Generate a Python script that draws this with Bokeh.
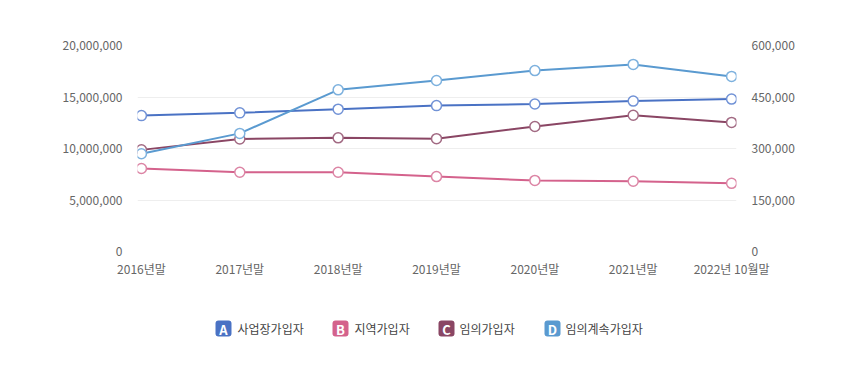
from bokeh.plotting import figure
from bokeh.layouts import column
from bokeh.models import (LinearAxis, Range1d, FixedTicker, NumeralTickFormatter,
                          BoxAnnotation, ColumnDataSource)
from bokeh.core.properties import value
from bokeh.embed import file_html
from bokeh.resources import INLINE

categories = ["2016년말", "2017년말", "2018년말", "2019년말", "2020년말", "2021년말", "2022년 10월말"]
series_names = ["사업장가입자", "지역가입자", "임의가입자", "임의계속가입자"]
legend_letters = ["A", "B", "C", "D"]
workplace = [13192000, 13459000, 13818000, 14163000, 14320000, 14602000, 14800000]
regional = [8060000, 7691000, 7694000, 7274000, 6900000, 6820000, 6620000]
voluntary = [296000, 327700, 331000, 328700, 364000, 397000, 376000]
voluntary_cont = [284700, 344000, 470900, 498000, 527000, 545000, 510000]
left_ticks = [0, 5000000, 10000000, 15000000, 20000000]
right_ticks = [0, 150000, 300000, 450000, 600000]

line_colors = ["#4a72c4", "#d4628c", "#8a4664", "#5a9ad0"]
marker_colors = ["#7192d6", "#dc85a5", "#a26a83", "#7db1de"]
FONT = "Noto Sans CJK KR"

W, H1, H2 = 861, 300, 71
FL, FR = 137, 736
p = figure(width=W, height=H1, output_backend="svg", toolbar_location=None,
           x_range=Range1d(-0.04, 6.05), y_range=Range1d(0, 20000000),
           min_border_left=FL, min_border_right=W - FR, min_border_top=45, min_border_bottom=49)
p.extra_y_ranges = {"right": Range1d(0, 600000)}
p.outline_line_color = None
p.background_fill_color = "white"
p.border_fill_color = "white"

xs = list(range(len(categories)))
data = [workplace, regional, voluntary, voluntary_cont]
ranges = ["default", "default", "right", "right"]
for vals, lc, mc, rn in zip(data, line_colors, marker_colors, ranges):
    src = ColumnDataSource(dict(x=xs, y=vals))
    p.line("x", "y", source=src, line_color=lc, line_width=2, y_range_name=rn)
    p.scatter("x", "y", source=src, size=10, fill_color="white", line_color=mc,
              line_width=1.5, y_range_name=rn)

# axes
p.xaxis.ticker = FixedTicker(ticks=xs)
p.xaxis.major_label_overrides = {i: c for i, c in enumerate(categories)}
p.yaxis.ticker = FixedTicker(ticks=left_ticks)
p.yaxis.formatter = NumeralTickFormatter(format="0,0")
ra = LinearAxis(y_range_name="right", ticker=FixedTicker(ticks=right_ticks),
                formatter=NumeralTickFormatter(format="0,0"))
p.add_layout(ra, "right")
for ax in [p.xaxis[0], p.yaxis[0], ra]:
    ax.axis_line_color = None
    ax.major_tick_line_color = None
    ax.minor_tick_line_color = None
    ax.major_tick_out = 0
    ax.major_tick_in = 0
    ax.minor_tick_out = 0
    ax.minor_tick_in = 0
    ax.major_label_text_font = FONT
    ax.major_label_text_font_size = "12px"
    ax.major_label_text_color = "#666666"
p.yaxis[0].major_label_standoff = 15
ra.major_label_standoff = 15
p.xaxis[0].major_label_standoff = 8

p.xgrid.visible = False
p.ygrid.grid_line_color = "#eeeeee"
p.ygrid.grid_line_width = 1

# legend figure (frame aligned with main; x data = page pixels, y downward)
q = figure(width=W, height=H2, output_backend="svg", toolbar_location=None,
           x_range=Range1d(FL, FR), y_range=Range1d(H2, 0),
           x_axis_type=None, y_axis_type=None,
           min_border_left=FL, min_border_right=W - FR, min_border_top=0, min_border_bottom=0)
q.outline_line_color = None
q.xgrid.visible = False
q.ygrid.visible = False
q.border_fill_color = "white"

sq_left = [215, 332, 438, 544]
txt_left = [237, 354, 459, 565]
cy = 328 - H1
for i in range(4):
    l = sq_left[i]
    q.add_layout(BoxAnnotation(left=l, right=l + 16, top=cy - 8, bottom=cy + 8,
                               fill_color=line_colors[i], fill_alpha=1, line_color=None,
                               border_radius=3, level="underlay"))
q.text(x=[l + 8 for l in sq_left], y=[cy + 0.5] * 4, text=legend_letters,
       text_color="white", text_font=value(FONT), text_font_style="bold",
       text_font_size="13px", text_align="center", text_baseline="middle")
q.text(x=txt_left, y=[cy] * 4, text=series_names,
       text_color="#444444", text_font=value(FONT),
       text_font_size="12px", text_align="left", text_baseline="middle")

layout = column(p, q, spacing=0)
open("out.html", "w").write(file_html(layout, INLINE))
